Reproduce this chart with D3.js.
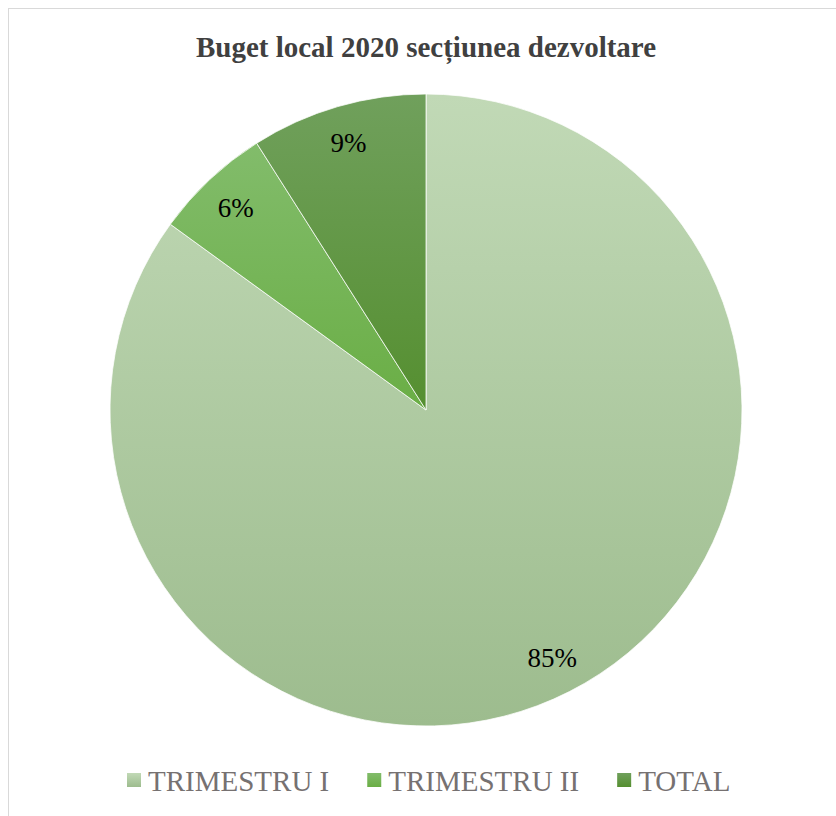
<!DOCTYPE html>
<html>
<head>
<meta charset="utf-8">
<script src="https://cdn.jsdelivr.net/npm/d3@7"></script>
<style>
  body { margin: 0; background: #fff; }
  svg { display: block; }
</style>
</head>
<body>
<div id="chart"></div>
<script>
// slice data, clockwise from 12 o'clock
var categories = ["TRIMESTRU I", "TRIMESTRU II", "TOTAL"];
var values = [85, 6, 9];
var colorsTop = ["#c1d9b6", "#82bc6b", "#70a05c"];
var colorsBottom = ["#9dbc8e", "#6aae45", "#558f30"];
var title = "Buget local 2020 secțiunea dezvoltare";

var width = 836, height = 816;
var cx = 426, cy = 410, radius = 316;

var svg = d3.select("#chart").append("svg")
    .attr("width", width)
    .attr("height", height);

// chart area border
svg.append("rect")
    .attr("x", 8.5)
    .attr("y", 8.5)
    .attr("width", width)
    .attr("height", height)
    .attr("fill", "none")
    .attr("stroke", "#d9d9d9")
    .attr("stroke-width", 1);

var defs = svg.append("defs");
categories.forEach(function(c, i) {
  var g = defs.append("linearGradient")
      .attr("id", "grad" + i)
      .attr("x1", 0).attr("y1", 0)
      .attr("x2", 0).attr("y2", 1);
  g.append("stop").attr("offset", "0%").attr("stop-color", colorsTop[i]);
  g.append("stop").attr("offset", "100%").attr("stop-color", colorsBottom[i]);
});

svg.append("text")
    .attr("x", cx)
    .attr("y", 57)
    .attr("text-anchor", "middle")
    .style("font-family", "'Liberation Serif', 'Times New Roman', serif")
    .style("font-size", "29px")
    .style("font-weight", "bold")
    .style("fill", "#404040")
    .text(title);

var pie = d3.pie()
    .sort(null)
    .value(function(d) { return d; });

var arc = d3.arc()
    .innerRadius(0)
    .outerRadius(radius);

var labelArc = d3.arc()
    .innerRadius(radius * 0.88)
    .outerRadius(radius * 0.88);

var total = d3.sum(values);
var arcs = pie(values);

var g = svg.append("g")
    .attr("transform", "translate(" + cx + "," + cy + ")");

g.selectAll(".slice")
    .data(arcs)
  .enter().append("path")
    .attr("class", "slice")
    .attr("d", arc)
    .attr("fill", function(d, i) { return "url(#grad" + i + ")"; })
    .attr("stroke", "#ffffff")
    .attr("stroke-width", 0.75);

g.selectAll(".label")
    .data(arcs)
  .enter().append("text")
    .attr("class", "label")
    .attr("transform", function(d) { return "translate(" + labelArc.centroid(d) + ")"; })
    .attr("text-anchor", "middle")
    .attr("dy", "0.35em")
    .style("font-family", "'Liberation Serif', 'Times New Roman', serif")
    .style("font-size", "27px")
    .style("fill", "#000")
    .text(function(d) { return Math.round(d.data / total * 100) + "%"; });

// legend
var legend = svg.append("g");
var lx = 127, ly = 791;
var item = legend.selectAll(".item")
    .data(categories)
  .enter().append("g")
    .attr("class", "item");

item.append("text")
    .attr("class", "ltext")
    .attr("y", ly)
    .style("font-family", "'Liberation Serif', 'Times New Roman', serif")
    .style("font-size", "29px")
    .style("fill", "#767171")
    .text(function(d) { return d; });

var xpos = lx;
item.each(function(d, i) {
  var it = d3.select(this);
  it.append("rect")
      .attr("x", xpos)
      .attr("y", ly - 18)
      .attr("width", 14)
      .attr("height", 14)
      .attr("fill", "url(#grad" + i + ")");
  it.select("text").attr("x", xpos + 21);
  var w = it.select("text").node().getComputedTextLength();
  xpos += 21 + w + 38;
});
</script>
</body>
</html>
